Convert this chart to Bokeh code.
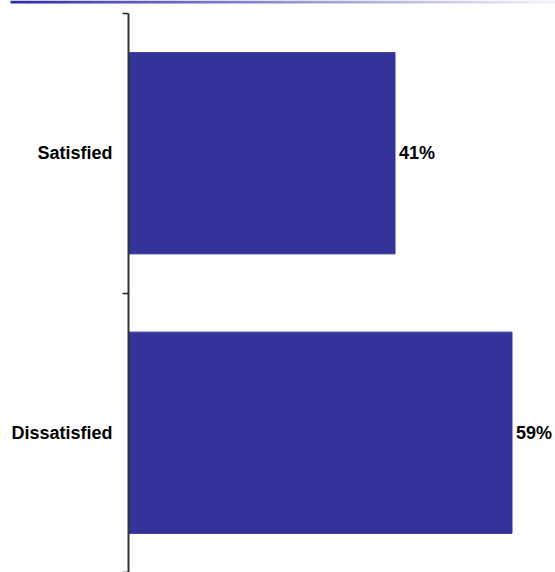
import numpy as np
from bokeh.plotting import figure
from bokeh.models import ColumnDataSource, Range1d, FixedTicker
from bokeh.core.properties import value
from bokeh.embed import file_html
from bokeh.resources import INLINE

# ---- data ----
categories = ["Satisfied", "Dissatisfied"]
values = [41, 59]
value_labels = ["41%", "59%"]

FONT = "Liberation Sans"
BAR_COLOR = "#333399"

# ---- layout constants (pixels) ----
W, H = 555, 572
AXIS_X = 128      # pixel position of the value axis (x = 0)
TOP = 13          # pixel position of the top of the category area
PX_PER_PCT = 6.5  # horizontal scale
STRIP_H = 3       # decorative strip height
STRIP_X0 = 10

ncat = len(categories)
px_per_cat = (H - TOP) / ncat
ymax = ncat + TOP / px_per_cat
xmin = -AXIS_X / PX_PER_PCT
xmax = (W - AXIS_X) / PX_PER_PCT

ypos = [ncat - 0.5 - i for i in range(ncat)]  # category band centres, first at top
source = ColumnDataSource(dict(cat=categories, y=ypos, val=values, lab=value_labels))

p = figure(width=W, height=H,
           y_range=Range1d(0, ymax),
           x_range=Range1d(xmin, xmax),
           output_backend="svg", toolbar_location=None,
           min_border=0, min_border_left=0, min_border_right=0,
           min_border_top=0, min_border_bottom=0)
p.xaxis.visible = False
p.grid.visible = False
p.outline_line_color = None

# decorative gradient strip at the very top
nseg = 60
edges = np.linspace((STRIP_X0 - AXIS_X) / PX_PER_PCT, xmax, nseg + 1)
tt = np.linspace(0, 1, nseg)
cols = ["#%02x%02x%02x" % (int(45 + 197 * s), int(45 + 197 * s), int(175 + 75 * s)) for s in tt]
p.quad(left=edges[:-1], right=edges[1:] + 0.05, bottom=ymax - STRIP_H / px_per_cat, top=ymax,
       fill_color=cols, line_color=None)

ax = p.yaxis[0]
ax.fixed_location = 0
ax.bounds = (0, ncat)
ax.ticker = FixedTicker(ticks=ypos, minor_ticks=list(range(ncat + 1)))
ax.major_label_overrides = {yv: c for yv, c in zip(ypos, categories)}
ax.major_label_standoff = 10
ax.major_label_text_font = FONT
ax.major_label_text_font_style = "bold"
ax.major_label_text_font_size = "18px"
ax.major_label_text_color = "#000000"
ax.major_tick_out = 0
ax.major_tick_in = 0
ax.major_tick_line_color = None
ax.minor_tick_out = 6
ax.minor_tick_in = 0
ax.minor_tick_line_color = "#222222"
ax.minor_tick_line_width = 1.5
ax.axis_line_color = "#333333"
ax.axis_line_width = 2

p.hbar(y="y", right="val", left=0, height=0.72, source=source,
       fill_color=BAR_COLOR, line_color=BAR_COLOR)

p.text(x="val", y="y", text="lab", source=source, x_offset=4,
       text_align="left", text_baseline="middle",
       text_font=value(FONT), text_font_style="bold",
       text_font_size="18px", text_color="#000000")

open("out.html", "w").write(file_html(p, INLINE))
